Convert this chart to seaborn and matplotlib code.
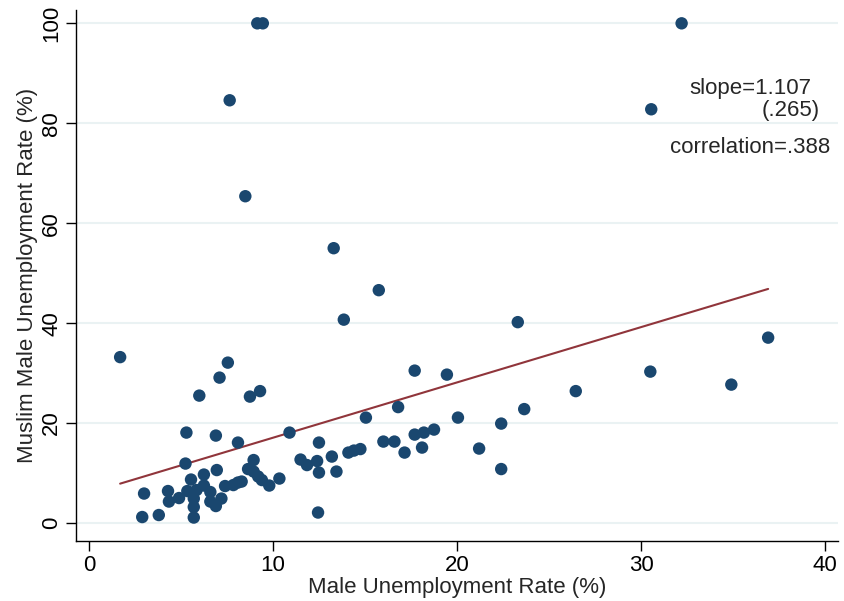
import numpy as np
import pandas as pd
import matplotlib
matplotlib.use("Agg")
import matplotlib.pyplot as plt
import seaborn as sns

# Male unemployment rate (%) and Muslim male unemployment rate (%) by region
male_rate = [
    1.7, 2.9, 3.0, 3.8, 4.3, 4.35, 4.9, 5.3, 5.25, 5.55,
    5.35, 5.85, 5.7, 5.7, 5.7, 6.0, 6.25, 6.25, 6.6, 6.6,
    6.9, 6.9, 6.95, 7.1, 7.2, 7.4, 7.55, 7.65, 7.85, 8.1,
    8.1, 8.3, 8.5, 8.65, 8.75, 8.95, 8.95, 9.15, 9.2, 9.3,
    9.4, 9.45, 9.8, 10.35, 10.9, 11.5, 11.85, 12.4, 12.5, 12.5,
    12.45, 13.2, 13.3, 13.45, 13.85, 14.1, 14.4, 14.75, 15.05, 15.75,
    16.0, 16.6, 16.8, 17.15, 17.7, 17.7, 18.1, 18.2, 18.75, 19.45,
    20.05, 21.2, 22.4, 22.4, 23.3, 23.65, 26.45, 30.5, 30.55, 32.2,
    34.9, 36.9,
]
muslim_rate = [
    33.2, 1.2, 5.9, 1.6, 6.4, 4.3, 5.0, 18.1, 11.9, 8.7,
    6.4, 6.6, 4.9, 3.2, 1.1, 25.5, 9.7, 7.5, 6.2, 4.3,
    3.4, 17.5, 10.6, 29.1, 4.9, 7.4, 32.1, 84.6, 7.6, 16.1,
    8.1, 8.3, 65.4, 10.8, 25.3, 12.6, 10.3, 100.0, 9.3, 26.4,
    8.6, 100.0, 7.5, 8.9, 18.1, 12.7, 11.6, 12.4, 16.1, 10.1,
    2.1, 13.3, 55.0, 10.3, 40.7, 14.1, 14.5, 14.8, 21.1, 46.6,
    16.3, 16.3, 23.2, 14.1, 30.5, 17.7, 15.1, 18.1, 18.7, 29.7,
    21.1, 14.9, 10.8, 19.9, 40.2, 22.8, 26.4, 30.3, 82.8, 100.0,
    27.7, 37.1,
]

# Linear fit reported in the corner
fit_slope = 1.107
fit_se = 0.265
fit_intercept = 6.0
correlation = 0.388

x_ticks = [0, 10, 20, 30, 40]
y_ticks = [0, 20, 40, 60, 80, 100]

df = pd.DataFrame({"male": male_rate, "muslim": muslim_rate})
fit_x = np.array([min(male_rate), max(male_rate)])
fit_df = pd.DataFrame({"male": fit_x, "muslim": fit_intercept + fit_slope * fit_x})

sns.set_theme(style="white")
plt.rcParams["font.family"] = ["Liberation Sans", "DejaVu Sans"]

fig = plt.figure(figsize=(8.44, 6.01), dpi=100)
ax = fig.add_axes([0.090, 0.0998, 0.903, 0.883])

navy = "#1A476F"
maroon = "#90353B"
fs = 16

sns.scatterplot(data=df, x="male", y="muslim", ax=ax, color=navy, s=80,
                edgecolor="none", linewidth=0, zorder=3)
sns.lineplot(data=fit_df, x="male", y="muslim", ax=ax, color=maroon,
             linewidth=1.5, zorder=2)

ax.set_xlim(-0.7, 40.7)
ax.set_ylim(-3.6, 102.6)
ax.set_xticks(x_ticks)
ax.set_yticks(y_ticks)
ax.set_xticklabels([str(v) for v in x_ticks], fontsize=fs)
ax.set_yticklabels([str(v) for v in y_ticks], fontsize=fs, rotation=90, va="center")

ax.yaxis.grid(True, color="#EAF2F3", linewidth=1.5)
ax.xaxis.grid(False)
ax.set_axisbelow(True)

for side in ["top", "right"]:
    ax.spines[side].set_visible(False)
for side in ["left", "bottom"]:
    ax.spines[side].set_color("black")
    ax.spines[side].set_linewidth(1.0)

ax.tick_params(axis="both", which="major", direction="out", length=7,
               width=1.0, color="black", labelcolor="black", pad=3,
               bottom=True, left=True)

ax.set_xlabel("Male Unemployment Rate (%)", fontsize=fs, labelpad=1)
ax.set_ylabel("Muslim Male Unemployment Rate (%)", fontsize=fs, labelpad=2)

ax.text(39.22, 87.0, f"slope={fit_slope:.3f}", fontsize=fs, ha="right", va="center")
ax.text(39.73, 82.6, f"({fit_se:.3f})".replace("0.", "."), fontsize=fs, ha="right", va="center")
ax.text(40.27, 75.2, f"correlation={correlation:.3f}".replace("=0.", "=."), fontsize=fs,
        ha="right", va="center")

fig.savefig("out.png", dpi=100, facecolor="white")
